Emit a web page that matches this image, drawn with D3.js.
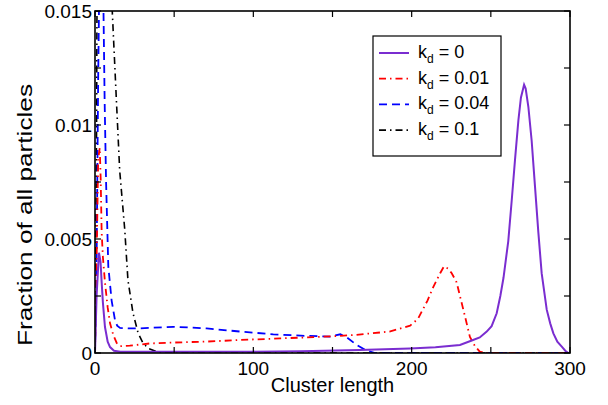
<!DOCTYPE html>
<html>
<head>
<meta charset="utf-8">
<script src="https://cdn.jsdelivr.net/npm/d3@7"></script>
<style>
  body { margin: 0; background: #fff; }
  text { font-family: "Liberation Sans", Arial, sans-serif; }
</style>
</head>
<body>
<svg id="chart" width="608" height="405"></svg>
<script>
// cluster length vs fraction of all particles, one list per k_d
const seriesLabels = ["0", "0.01", "0.04", "0.1"];

const kd0 = [[0,0],[1,0.0025],[2.5,0.0044],[3.5,0.004],[4.2,0.0031],[5,0.0022],[6.3,0.00114],[8,0.0005],
  [9.5,0.00026],[12,0.0001],[16,0.00006],[50,0.00005],[100,0.00006],[130,0.00008],[167,0.00013],
  [199,0.0002],[215,0.00025],[230.5,0.00035],[238.8,0.00057],[243,0.00068],[247.4,0.00094],[250.5,0.00118],
  [253.7,0.00174],[256,0.0025],[258,0.0033],[261,0.0049],[263.2,0.0067],[265.3,0.0085],[267.4,0.0102],
  [269,0.0112],[271,0.01177],[272,0.0116],[273.7,0.0108],[275.8,0.0093],[277.9,0.0073],[280,0.0053],
  [282.1,0.0035],[285.3,0.0019],[287.5,0.0013],[289.5,0.00086],[292,0.0005],[294.8,0.00028],[297,0.0001],[299,0]];

const kd001 = [[0,0],[1,0.004],[2,0.0085],[3,0.009],[3.6,0.0076],[4.2,0.0053],[5,0.0042],[6.3,0.0031],
  [8,0.002],[9.5,0.0013],[11.5,0.0008],[13.7,0.00044],[16,0.0003],[22,0.00032],[34.7,0.00042],[50,0.00046],
  [70.5,0.0005],[91.6,0.00057],[117,0.00064],[140,0.0007],[164,0.00079],[186,0.00094],[199,0.0012],
  [204,0.0015],[207,0.0019],[210,0.0023],[213.7,0.0029],[218,0.0035],[220.4,0.0038],[223,0.0037],
  [225.3,0.0035],[228.4,0.0031],[230.5,0.0025],[233.7,0.0016],[236.8,0.0007],[240,0.0003],[243,0.00006],
  [246,0],[300,0]];

const kd004 = [[0,0],[1,0.004],[2,0.012],[3,0.018],[5,0.017],[6.1,0.011],[7,0.0075],[8.4,0.0038],
  [10.5,0.0023],[12.6,0.00145],[14,0.0012],[15.8,0.0011],[22,0.00108],[28.4,0.00108],[49.5,0.00115],
  [70.5,0.00108],[91.6,0.00094],[112.6,0.00082],[130,0.00076],[148.4,0.00072],[155,0.00082],[159,0.00069],
  [165.3,0.00035],[171.6,0.0001],[177,0],[300,0]];

const kd01 = [[0,0],[1,0.01],[2,0.03],[10,0.02],[10.9,0.015],[13.5,0.0111],[15.6,0.008],[18.8,0.0054],
  [20.8,0.0032],[24,0.00175],[27.2,0.00088],[30.3,0.00044],[33.7,0.0002],[39,0.00006],[42,0],[300,0]];

const xTickLabels = [0, 100, 200, 300];
const yTickLabels = [0, 0.005, 0.01, 0.015];

const svg = d3.select("#chart");
const margin = { top: 11, right: 38, bottom: 52, left: 95 };
const innerWidth = 608 - margin.left - margin.right;
const innerHeight = 405 - margin.top - margin.bottom;

const g = svg.append("g")
  .attr("transform", `translate(${margin.left},${margin.top})`);

const x = d3.scaleLinear().domain([0, 300]).range([0, innerWidth]);
const y = d3.scaleLinear().domain([0, 0.015]).range([innerHeight, 0]);

g.append("clipPath").attr("id", "plot-clip")
  .append("rect").attr("width", innerWidth).attr("height", innerHeight);

const series = [
  { data: kd0, color: "#7a2dd0", dash: null, width: 2 },
  { data: kd001, color: "#ff0000", dash: "7,4,1.5,4", width: 1.8 },
  { data: kd004, color: "#0000ff", dash: "8,5", width: 1.8 },
  { data: kd01, color: "#000000", dash: "7,4,1.5,4", width: 1.6 }
];

const line = d3.line().x(d => x(d[0])).y(d => y(d[1]));

// draw in reverse so purple ends on top
series.slice().reverse().forEach(s => {
  g.append("path")
    .datum(s.data)
    .attr("clip-path", "url(#plot-clip)")
    .attr("fill", "none")
    .attr("stroke", s.color)
    .attr("stroke-width", s.width)
    .attr("stroke-dasharray", s.dash)
    .attr("d", line);
});

// ticks inside on all four sides (matlab box)
const xTicks = d3.range(0, 301, 50);
const yTicks = d3.range(0, 0.0151, 0.0025);
const tickLen = 6;

const tickStyle = sel => sel.attr("stroke", "#000").attr("stroke-width", 1.2);

xTicks.forEach(t => {
  g.append("line").attr("x1", x(t)).attr("x2", x(t)).attr("y1", innerHeight).attr("y2", innerHeight - tickLen).call(tickStyle);
  g.append("line").attr("x1", x(t)).attr("x2", x(t)).attr("y1", 0).attr("y2", tickLen).call(tickStyle);
});
yTicks.forEach(t => {
  g.append("line").attr("x1", 0).attr("x2", tickLen).attr("y1", y(t)).attr("y2", y(t)).call(tickStyle);
  g.append("line").attr("x1", innerWidth).attr("x2", innerWidth - tickLen).attr("y1", y(t)).attr("y2", y(t)).call(tickStyle);
});

g.append("rect")
  .attr("width", innerWidth)
  .attr("height", innerHeight)
  .attr("fill", "none")
  .attr("stroke", "#000")
  .attr("stroke-width", 1.6);

g.selectAll(".xlab")
  .data(xTickLabels)
  .enter().append("text")
  .attr("x", d => x(d))
  .attr("y", innerHeight + 22)
  .attr("text-anchor", "middle")
  .attr("font-size", "19px")
  .text(d => d);

g.selectAll(".ylab")
  .data(yTickLabels)
  .enter().append("text")
  .attr("x", -3)
  .attr("y", d => y(d))
  .attr("dy", "0.36em")
  .attr("text-anchor", "end")
  .attr("font-size", "19px")
  .text(d => d);

svg.append("text")
  .attr("x", margin.left + innerWidth / 2)
  .attr("y", 392)
  .attr("text-anchor", "middle")
  .attr("font-size", "20px")
  .text("Cluster length");

svg.append("text")
  .attr("transform", "translate(32,215) rotate(-90)")
  .attr("text-anchor", "middle")
  .attr("font-size", "21px")
  .attr("textLength", 262)
  .attr("lengthAdjust", "spacingAndGlyphs")
  .text("Fraction of all particles");

// Legend
const legend = svg.append("g");
legend.append("rect")
  .attr("x", 373).attr("y", 36)
  .attr("width", 128).attr("height", 120)
  .attr("fill", "#fff")
  .attr("stroke", "#000")
  .attr("stroke-width", 1.2);

series.forEach((s, i) => {
  const ly = 53 + i * 25.7;
  legend.append("line")
    .attr("x1", 379).attr("x2", 409)
    .attr("y1", ly).attr("y2", ly)
    .attr("stroke", s.color)
    .attr("stroke-width", s.width)
    .attr("stroke-dasharray", s.dash);
  const t = legend.append("text")
    .attr("x", 418)
    .attr("y", ly + 5)
    .attr("font-size", "18px");
  t.append("tspan").text("k");
  t.append("tspan").attr("font-size", "12px").attr("dy", 5).text("d");
  t.append("tspan").attr("dy", -5).text(" = " + seriesLabels[i]);
});
</script>
</body>
</html>
